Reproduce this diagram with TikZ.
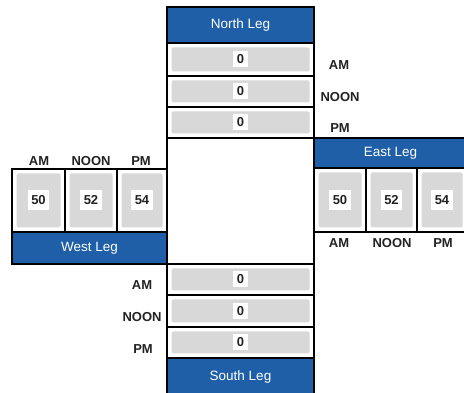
\documentclass[tikz,border=0pt]{standalone}
\usepackage{fontspec}
\setmainfont{Liberation Sans}
\definecolor{legblue}{HTML}{1F5FA8}
\definecolor{cellgray}{HTML}{D8D8D8}
\definecolor{lblgray}{HTML}{222222}
\newcommand\legcell[7]{%
  \node[cellbox, minimum width=#4, minimum height=#5] (#1) at (#2,#3) {};
  \node[graybox, minimum width=#4-9, minimum height=#5-9] (#1g) at (#1) {};
  \node[valbox, minimum height=#7] (#1v) at (#1) {#6};}
\begin{document}
\begin{tikzpicture}[x=1pt,y=-1pt,
  hdr/.style={draw=black, line width=1.5pt, fill=legblue, text=white, inner sep=0pt,
    font=\fontsize{13.5}{14}\selectfont},
  cellbox/.style={draw=black, line width=2pt, fill=white, inner sep=0pt},
  graybox/.style={fill=cellgray, rounded corners=1.5pt, inner sep=0pt},
  valbox/.style={fill=white, inner xsep=3.5pt, inner ysep=0pt,
    font=\bfseries\fontsize{13}{13}\selectfont, text=lblgray},
  lbl/.style={font=\bfseries\fontsize{13}{13}\selectfont, text=lblgray, inner sep=0pt}]
\useasboundingbox (0,0) rectangle (464,393);
% central box
\node[cellbox, minimum width=147, minimum height=126] (center) at (240.5,201) {};
% North leg
\node[hdr, minimum width=147, minimum height=36] (nhdr) at (240.5,25) {North Leg};
\legcell{nam}{240.5}{59.5}{147}{33}{0}{16}
\legcell{nnoon}{240.5}{91.5}{147}{31}{0}{16}
\legcell{npm}{240.5}{122.5}{147}{31}{0}{16}
\node[lbl] (lnam) at (339,65) {AM};
\node[lbl] (lnnoon) at (340,97) {NOON};
\node[lbl] (lnpm) at (340,128) {PM};
% South leg
\legcell{sam}{240.5}{279.5}{147}{31}{0}{16}
\legcell{snoon}{240.5}{311}{147}{32}{0}{16}
\legcell{spm}{240.5}{342.5}{147}{31}{0}{16}
\node[hdr, minimum width=147, minimum height=38] (shdr) at (240.5,377) {South Leg};
\node[lbl] (lsam) at (142,285) {AM};
\node[lbl] (lsnoon) at (142,317) {NOON};
\node[lbl] (lspm) at (143,349) {PM};
% West leg
\legcell{wam}{38.5}{200.5}{53}{63}{50}{20}
\legcell{wnoon}{91}{200.5}{52}{63}{52}{20}
\legcell{wpm}{142}{200.5}{50}{63}{54}{20}
\node[hdr, minimum width=155, minimum height=32] (whdr) at (89.5,248) {West Leg};
\node[lbl] (lwam) at (39,161) {AM};
\node[lbl] (lwnoon) at (91,161) {NOON};
\node[lbl] (lwpm) at (141,161) {PM};
% East leg
\node[hdr, minimum width=153, minimum height=30] (ehdr) at (390.5,153) {East Leg};
\legcell{eam}{340}{200}{52}{64}{50}{20}
\legcell{enoon}{391.5}{200}{51}{64}{52}{20}
\legcell{epm}{442}{200}{50}{64}{54}{20}
\node[lbl] (leam) at (339,243) {AM};
\node[lbl] (lenoon) at (392,243) {NOON};
\node[lbl] (lepm) at (443,243) {PM};
\end{tikzpicture}
\end{document}
